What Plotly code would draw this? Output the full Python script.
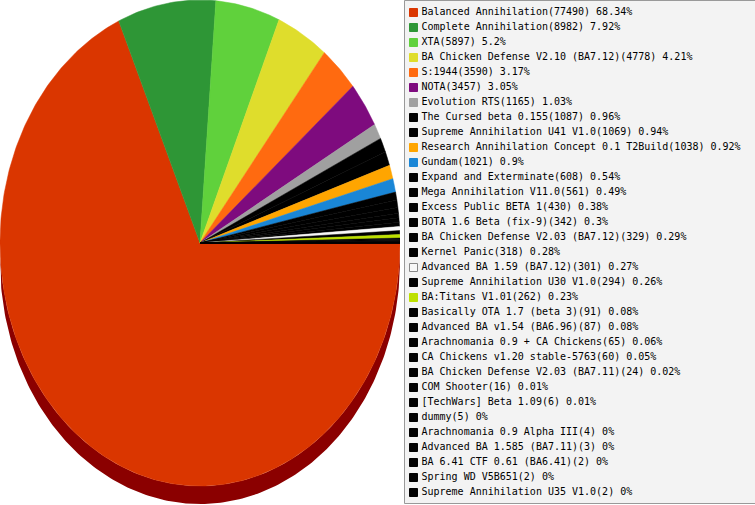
import numpy as np
import plotly.graph_objects as go

# Datos: mods y numero de partidas
mods = [
    "Balanced Annihilation", "Complete Annihilation", "XTA",
    "BA Chicken Defense V2.10 (BA7.12)", "S:1944", "NOTA", "Evolution RTS",
    "The Cursed beta 0.155", "Supreme Annihilation U41 V1.0",
    "Research Annihilation Concept 0.1 T2Build", "Gundam",
    "Expand and Exterminate", "Mega Annihilation V11.0", "Excess Public BETA 1",
    "BOTA 1.6 Beta (fix-9)", "BA Chicken Defense V2.03 (BA7.12)", "Kernel Panic",
    "Advanced BA 1.59 (BA7.12)", "Supreme Annihilation U30 V1.0", "BA:Titans V1.01",
    "Basically OTA 1.7 (beta 3)", "Advanced BA v1.54 (BA6.96)",
    "Arachnomania 0.9 + CA Chickens", "CA Chickens v1.20 stable-5763",
    "BA Chicken Defense V2.03 (BA7.11)", "COM Shooter", "[TechWars] Beta 1.09",
    "dummy", "Arachnomania 0.9 Alpha III", "Advanced BA 1.585 (BA7.11)",
    "BA 6.41 CTF 0.61 (BA6.41)", "Spring WD V5B651", "Supreme Annihilation U35 V1.0",
]
partidas = [
    77490, 8982, 5897, 4778, 3590, 3457, 1165, 1087, 1069, 1038, 1021,
    608, 561, 430, 342, 329, 318, 301, 294, 262, 91, 87, 65, 60, 24, 16, 6,
    5, 4, 3, 2, 2, 2,
]
porcentajes = [
    "68.34%", "7.92%", "5.2%", "4.21%", "3.17%", "3.05%", "1.03%", "0.96%",
    "0.94%", "0.92%", "0.9%", "0.54%", "0.49%", "0.38%", "0.3%", "0.29%",
    "0.28%", "0.27%", "0.26%", "0.23%", "0.08%", "0.08%", "0.06%", "0.05%",
    "0.02%", "0.01%", "0.01%", "0%", "0%", "0%", "0%", "0%", "0%",
]
colores = [
    "#da3600", "#2e9636", "#60d13c", "#dfdd2c", "#ff6a10", "#7e0b7e", "#a0a0a0",
    "#000000", "#000000", "#ffa500", "#1a86d6", "#000000", "#000000", "#000000",
    "#000000", "#000000", "#000000", "#f8f8f8", "#000000", "#bde000",
] + ["#000000"] * 13

fig = go.Figure()

# Lateral del pastel (efecto 3D)
prof = 18 / 243
t = np.linspace(0, -np.pi, 200)
lado_x = np.concatenate([np.cos(t), np.cos(t[::-1])])
lado_y = np.concatenate([np.sin(t), np.sin(t[::-1]) - prof])
fig.add_trace(go.Scatter(x=lado_x, y=lado_y, fill="toself", mode="lines",
                         fillcolor="#8b0000", line=dict(width=0, color="#8b0000"),
                         hoverinfo="skip", xaxis="x", yaxis="y"))

# Porciones, en sentido horario desde las 3
total = sum(partidas)
acum = np.concatenate([[0], np.cumsum(partidas)]) / total
for i, nombre in enumerate(mods):
    a0, a1 = -acum[i] * 2 * np.pi, -acum[i + 1] * 2 * np.pi
    n = max(int(abs(a1 - a0) * 80), 2)
    ang = np.linspace(a0, a1, n)
    px = np.concatenate([[0], np.cos(ang), [0]])
    py = np.concatenate([[0], np.sin(ang), [0]])
    fig.add_trace(go.Scatter(x=px, y=py, fill="toself", mode="lines",
                             fillcolor=colores[i],
                             line=dict(width=0.5, color=colores[i]),
                             name=nombre, hoverinfo="name",
                             xaxis="x", yaxis="y"))

# Leyenda hecha a mano
etiquetas = [f"{m}({p}) {pc}" for m, p, pc in zip(mods, partidas, porcentajes)]
bordes = ["#888888" if c == "#f8f8f8" else c for c in colores]
fig.add_trace(go.Scatter(
    x=[13.5] * len(mods), y=list(range(len(mods))), mode="markers",
    marker=dict(symbol="square", size=8, color=colores,
                line=dict(width=1, color=bordes)),
    hoverinfo="skip", cliponaxis=False, xaxis="x2", yaxis="y2"))
fig.add_trace(go.Scatter(
    x=[21.5] * len(mods), y=list(range(len(mods))), mode="text",
    text=etiquetas, textposition="middle right",
    textfont=dict(family="DejaVu Sans Mono", size=10, color="#000000"),
    hoverinfo="skip", cliponaxis=False, xaxis="x2", yaxis="y2"))

fig.update_layout(
    width=755, height=505,
    margin=dict(l=0, r=0, t=0, b=0),
    paper_bgcolor="white", plot_bgcolor="rgba(0,0,0,0)",
    showlegend=False,
    xaxis=dict(domain=[0, 400 / 755], range=[-1, 1], visible=False),
    yaxis=dict(domain=[0, 1], range=[-1 - 19 / 243, 1], visible=False),
    xaxis2=dict(domain=[400 / 755, 1], range=[0, 355], visible=False, anchor="y2"),
    yaxis2=dict(domain=[0, 1], range=[32.833, -0.833], visible=False, anchor="x2"),
    shapes=[dict(type="rect", xref="paper", yref="paper", layer="below",
                 x0=404.5 / 755, x1=1.02, y0=1.5 / 505, y1=504.5 / 505,
                 fillcolor="#f3f3f3", line=dict(color="#999999", width=1))],
)

# quitar el margen del body para que la figura quede en (0, 0)
fig.write_html("out.html", config={"displayModeBar": False},
               post_script="document.body.style.margin='0';")
